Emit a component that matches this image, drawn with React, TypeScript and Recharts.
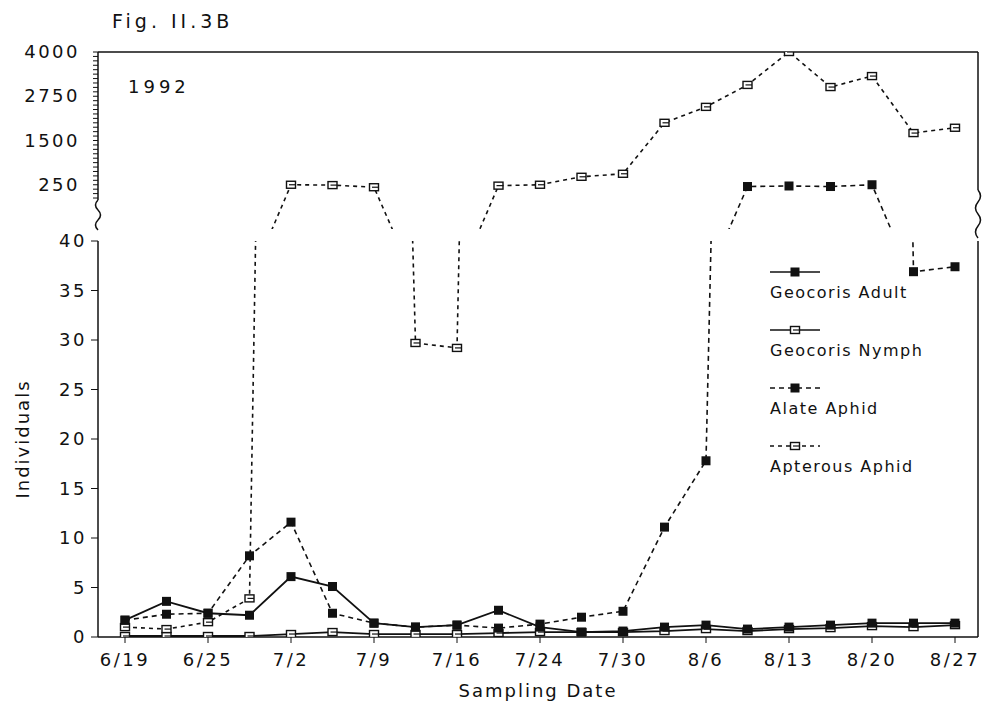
import { LineChart, Line, XAxis, YAxis } from "recharts"

const dates = ["6/19","6/22","6/25","6/28","7/2","7/5","7/9","7/12","7/16","7/20","7/24","7/27","7/30","8/3","8/6","8/10","8/13","8/17","8/20","8/23","8/27"]

const geoAdult = [1.7,3.6,2.4,2.2,6.1,5.1,1.4,1.0,1.2,2.7,1.0,0.5,0.6,1.0,1.2,0.8,1.0,1.2,1.4,1.4,1.4]
const geoNymph = [0.1,0.1,0.1,0.1,0.3,0.5,0.3,0.3,0.3,0.4,0.5,0.5,0.5,0.6,0.8,0.6,0.8,0.9,1.1,1.0,1.2]
const alateAphid = [1.7,2.3,2.4,8.2,11.6,2.4,1.4,1.0,1.2,0.9,1.3,2.0,2.6,11.1,17.8,200,215,200,250,36.9,37.4]
const apterousAphid = [1.0,0.8,1.5,3.9,250,240,180,29.7,29.2,225,250,475,560,2000,2450,3070,4000,3010,3320,1710,1860]

const lowerTicks = [0,5,10,15,20,25,30,35,40]
const upperTicks = [250,1500,2750,4000]

const LOW_MAX = 40
const BELOW = -2500 // pushes a segment through the break, clipped away

const minorTicks:number[] = []
for(let t=-250;t<=4000;t+=125) minorTicks.push(t)

function upperValue(series:number[], i:number){
  const v = series[i]
  if(v >= LOW_MAX) return v
  const prev = i>0 ? series[i-1] : 0
  const next = i<series.length-1 ? series[i+1] : 0
  if(prev >= LOW_MAX || next >= LOW_MAX) return BELOW
  return null
}

const lowerData = dates.map((d,i)=>({
  date:d,
  adult:geoAdult[i],
  nymph:geoNymph[i],
  alate:alateAphid[i],
  apterous:apterousAphid[i]
}))

const upperData = dates.map((d,i)=>({
  date:d,
  alate:upperValue(alateAphid,i),
  apterous:upperValue(apterousAphid,i)
}))

const INK = "#111"
const font = "'DejaVu Sans', sans-serif"

function Marker({cx,cy,filled}:{cx:number,cy:number,filled:boolean}){
  if(filled){
    return <rect x={cx-4.5} y={cy-4.5} width={9} height={9} fill={INK} />
  }
  return (
    <g>
      <rect x={cx-4.5} y={cy-3.5} width={9} height={7} fill="#fff" stroke={INK} strokeWidth={1.4} />
      <line x1={cx-2} y1={cy} x2={cx+4.5} y2={cy} stroke={INK} strokeWidth={1.2} />
    </g>
  )
}

function makeDot(filled:boolean, lower:boolean){
  return (p:any)=>{
    const v = p.value
    const show = v!=null && (lower ? v <= LOW_MAX : v >= LOW_MAX)
    if(!show || p.cx==null || p.cy==null) return <g key={`e-${p.index}`} />
    return <g key={`d-${p.index}`}><Marker cx={p.cx} cy={p.cy} filled={filled} /></g>
  }
}

function UpperTick(p:any){
  const val = p.payload.value
  if(!upperTicks.includes(val)) return <g />
  return (
    <text x={p.x} y={p.y} dy={6} textAnchor="end" fill={INK}
      style={{fontFamily:font,fontSize:18,letterSpacing:2.5}}>{val}</text>
  )
}

const tickStyle = {fontFamily:font,fontSize:18,fill:INK,letterSpacing:2.5}

const legendItems = [
  {name:"Geocoris Adult", filled:true, dash:undefined as string|undefined},
  {name:"Geocoris Nymph", filled:false, dash:undefined as string|undefined},
  {name:"Alate Aphid", filled:true, dash:"5 4"},
  {name:"Apterous Aphid", filled:false, dash:"4 4"}
]

export default function App(){
  return(
    <div style={{position:"absolute",left:0,top:0,width:987,height:706,background:"#fff",fontFamily:font,color:INK}}>

      <div style={{position:"absolute",left:112,top:10,fontSize:19,letterSpacing:4}}>Fig. II.3B</div>
      <div style={{position:"absolute",left:128,top:76,fontSize:18,letterSpacing:4}}>1992</div>

      <div style={{position:"absolute",left:0,top:0}}>
        <LineChart width={987} height={240} data={upperData}
          margin={{top:51,right:8,left:38,bottom:11}}>
          <XAxis dataKey="date" orientation="top" height={1} tick={false} tickLine={false}
            padding={{left:27,right:23}} axisLine={{stroke:INK,strokeWidth:1.5}} />
          <YAxis yAxisId="l" type="number" domain={[-1000,4000]} ticks={minorTicks} interval={0}
            allowDataOverflow width={60} tickSize={5} tickMargin={13} tick={UpperTick}
            axisLine={{stroke:INK,strokeWidth:1.5}} tickLine={{stroke:INK}} />
          <YAxis yAxisId="r" orientation="right" type="number" domain={[-1000,4000]} width={1}
            tick={false} tickLine={false} axisLine={{stroke:INK,strokeWidth:1.5}} />
          <Line yAxisId="l" dataKey="alate" stroke={INK} strokeWidth={1.6} strokeDasharray="5 4"
            dot={makeDot(true,false)} isAnimationActive={false} />
          <Line yAxisId="l" dataKey="apterous" stroke={INK} strokeWidth={1.6} strokeDasharray="4 4"
            dot={makeDot(false,false)} isAnimationActive={false} />
        </LineChart>
      </div>

      <div style={{position:"absolute",left:0,top:230}}>
        <LineChart width={987} height={476} data={lowerData}
          margin={{top:11,right:8,left:38,bottom:9}}>
          <XAxis dataKey="date" interval={1} height={60} tickSize={6} tickMargin={10}
            padding={{left:27,right:23}} tick={tickStyle}
            axisLine={{stroke:INK,strokeWidth:1.5}} tickLine={{stroke:INK}}
            label={{value:"Sampling Date",position:"insideBottom",offset:0,
              style:{fontFamily:font,fontSize:18,fill:INK,letterSpacing:2}}} />
          <YAxis yAxisId="l" type="number" domain={[0,40]} ticks={lowerTicks} interval={0}
            allowDataOverflow width={60} tickSize={7} tickMargin={4} tick={tickStyle}
            axisLine={{stroke:INK,strokeWidth:1.5}} tickLine={{stroke:INK}} />
          <YAxis yAxisId="r" orientation="right" type="number" domain={[0,40]} width={1}
            tick={false} tickLine={false} axisLine={{stroke:INK,strokeWidth:1.5}} />
          <Line yAxisId="l" dataKey="nymph" stroke={INK} strokeWidth={1.8}
            dot={makeDot(false,true)} isAnimationActive={false} />
          <Line yAxisId="l" dataKey="apterous" stroke={INK} strokeWidth={1.6} strokeDasharray="4 4"
            dot={makeDot(false,true)} isAnimationActive={false} />
          <Line yAxisId="l" dataKey="alate" stroke={INK} strokeWidth={1.6} strokeDasharray="5 4"
            dot={makeDot(true,true)} isAnimationActive={false} />
          <Line yAxisId="l" dataKey="adult" stroke={INK} strokeWidth={1.8}
            dot={makeDot(true,true)} isAnimationActive={false} />
        </LineChart>
      </div>

      <div style={{position:"absolute",left:22,top:439,transform:"translate(-50%,-50%) rotate(-90deg)",
        fontSize:18,letterSpacing:2,whiteSpace:"nowrap"}}>Individuals</div>

      {/* axis break marks */}
      <svg width={987} height={706} style={{position:"absolute",left:0,top:0,pointerEvents:"none"}}>
        <rect x={93} y={200} width={10} height={32} fill="#fff" />
        <path d="M98 200 Q93 205 98 210 Q103 215 98 220 Q93 225 98 230" fill="none" stroke={INK} strokeWidth={1.5} />
        <rect x={973} y={190} width={10} height={50} fill="#fff" />
        <path d="M978 190 Q983 196 978 202 Q973 208 978 214 Q983 220 978 226 Q973 232 978 238" fill="none" stroke={INK} strokeWidth={1.5} />
      </svg>

      <div style={{position:"absolute",left:770,top:263}}>
        {legendItems.map((it)=>(
          <div key={it.name} style={{height:58}}>
            <svg width={60} height={18} style={{display:"block"}}>
              <line x1={0} y1={9} x2={50} y2={9} stroke={INK} strokeWidth={1.6} strokeDasharray={it.dash} />
              <Marker cx={25} cy={9} filled={it.filled} />
            </svg>
            <div style={{fontSize:16,letterSpacing:1.5,marginTop:2}}>{it.name}</div>
          </div>
        ))}
      </div>

    </div>
  )
}
